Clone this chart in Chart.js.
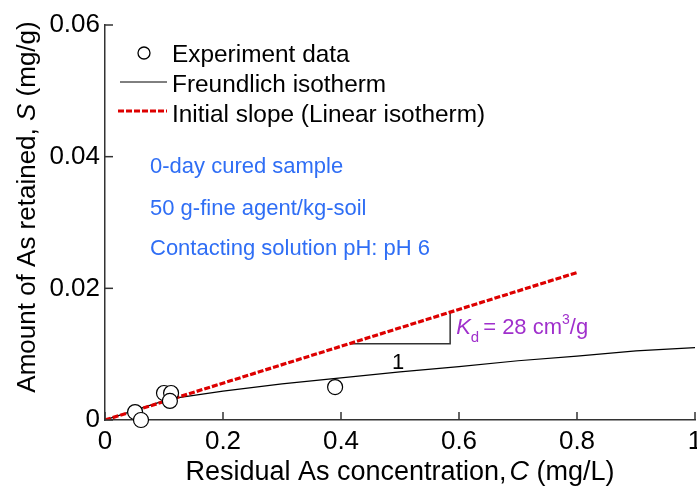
<!DOCTYPE html>
<html>
<head>
<meta charset="utf-8">
<script src="https://cdn.jsdelivr.net/npm/chart.js@4.4.1/dist/chart.umd.min.js"></script>
<style>
  html, body { margin: 0; padding: 0; background: #fff; }
  #wrap { width: 697px; height: 489px; position: relative; }
</style>
</head>
<body>
<div id="wrap"><canvas id="isoChart" width="697" height="489"></canvas></div>
<script>
// --- data ---
const expC = [0.051, 0.061, 0.100, 0.112, 0.110, 0.390];
const expS = [0.0012, 0.0000, 0.0041, 0.0041, 0.0029, 0.0050];

const freundC = [0, 0.11, 0.2, 0.3, 0.4, 0.5, 0.6, 0.7, 0.8, 0.9, 1.0];
const freundS = [0, 0.0032, 0.0044, 0.0055, 0.0064, 0.0073, 0.0081, 0.0090, 0.0097, 0.0105, 0.0110];

const linearC = [0, 0.8];
const linearS = [0, 0.0224];

// slope triangle (Kd = 28 cm3/g)
const triC = [0.417, 0.585, 0.585];
const triS = [0.0116, 0.0116, 0.0165];

const xTicks = [0, 0.2, 0.4, 0.6, 0.8, 1];
const yTicks = [0, 0.02, 0.04, 0.06];

const FONT = '"Liberation Sans", Arial, sans-serif';
const RED = '#dd0000';
const BLUE = '#2f6ef5';
const PURPLE = '#a030cc';

const toXY = (xs, ys) => xs.map((x, i) => ({ x: x, y: ys[i] }));

// ticks pointing inward, axis titles, legend and notes
const decorPlugin = {
  id: 'decor',
  afterDraw(chart) {
    const ctx = chart.ctx;
    const xs = chart.scales.x, ys = chart.scales.y;
    const area = chart.chartArea;
    ctx.save();
    ctx.strokeStyle = '#333';
    ctx.lineWidth = 1.5;
    xTicks.forEach(v => {
      const px = xs.getPixelForValue(v);
      ctx.beginPath(); ctx.moveTo(px, area.bottom); ctx.lineTo(px, area.bottom - 8); ctx.stroke();
    });
    yTicks.forEach(v => {
      const py = ys.getPixelForValue(v);
      ctx.beginPath(); ctx.moveTo(area.left, py); ctx.lineTo(area.left + 8, py); ctx.stroke();
    });

    // mixed upright/italic text helper
    const drawParts = (parts, x, y, align) => {
      let total = 0;
      parts.forEach(p => { ctx.font = p.font; total += ctx.measureText(p.t).width + (p.gap || 0); });
      let cx = align === 'center' ? x - total / 2 : x;
      parts.forEach(p => {
        ctx.font = p.font;
        ctx.fillStyle = p.color || '#000';
        ctx.fillText(p.t, cx, y + (p.dy || 0));
        cx += ctx.measureText(p.t).width + (p.gap || 0);
      });
    };
    ctx.textBaseline = 'alphabetic';
    ctx.textAlign = 'left';

    // x title
    drawParts([
      { t: 'Residual As concentration,', font: '27px ' + FONT, gap: 3 },
      { t: 'C', font: 'italic 27px ' + FONT },
      { t: ' (mg/L)', font: '27px ' + FONT }
    ], (area.left + area.right) / 2, 480, 'center');

    // y title
    ctx.save();
    ctx.translate(35, 207);
    ctx.rotate(-Math.PI / 2);
    drawParts([
      { t: 'Amount of As retained, ', font: '26px ' + FONT },
      { t: 'S', font: 'italic 26px ' + FONT },
      { t: ' (mg/g)', font: '26px ' + FONT }
    ], 0, 0, 'center');
    ctx.restore();

    // legend
    ctx.beginPath(); ctx.arc(144, 53, 6, 0, Math.PI * 2);
    ctx.fillStyle = '#fff'; ctx.fill();
    ctx.strokeStyle = '#000'; ctx.lineWidth = 1.3; ctx.stroke();
    ctx.font = '24.4px ' + FONT;
    ctx.fillStyle = '#000';
    ctx.fillText('Experiment data', 172, 62);
    ctx.beginPath(); ctx.moveTo(120, 82); ctx.lineTo(167, 82);
    ctx.lineWidth = 1; ctx.strokeStyle = '#000'; ctx.stroke();
    ctx.fillText('Freundlich isotherm', 172, 92);
    ctx.beginPath(); ctx.moveTo(118, 111); ctx.lineTo(167, 111);
    ctx.lineWidth = 3; ctx.strokeStyle = RED; ctx.setLineDash([6, 2]); ctx.stroke();
    ctx.setLineDash([]);
    ctx.fillText('Initial slope (Linear isotherm)', 172, 122);

    // condition notes
    ctx.font = '22px ' + FONT;
    ctx.fillStyle = BLUE;
    ctx.fillText('0-day cured sample', 150, 173);
    ctx.fillText('50 g-fine agent/kg-soil', 150, 215);
    ctx.fillText('Contacting solution pH: pH 6', 150, 255);

    // slope label
    ctx.fillStyle = '#000';
    ctx.font = '22px ' + FONT;
    ctx.fillText('1', 392, 369);
    const kx = xs.getPixelForValue(0.585) + 6;
    drawParts([
      { t: 'K', font: 'italic 22px ' + FONT, color: PURPLE },
      { t: 'd', font: '15px ' + FONT, color: PURPLE, dy: 8, gap: 4 },
      { t: '= 28 cm', font: '22px ' + FONT, color: PURPLE },
      { t: '3', font: '14px ' + FONT, color: PURPLE, dy: -10 },
      { t: '/g', font: '22px ' + FONT, color: PURPLE }
    ], kx, 334, 'left');
    ctx.restore();
  }
};

new Chart(document.getElementById('isoChart'), {
  type: 'scatter',
  data: {
    datasets: [
      {
        label: 'Experiment data',
        data: toXY(expC, expS),
        pointStyle: 'circle',
        pointRadius: 7.5,
        pointBackgroundColor: '#fff',
        pointBorderColor: '#000',
        pointBorderWidth: 1.2,
        showLine: false,
        clip: false,
        order: 0
      },
      {
        label: 'Freundlich isotherm',
        data: toXY(freundC, freundS),
        showLine: true,
        borderColor: '#000',
        borderWidth: 1.2,
        pointRadius: 0,
        order: 2
      },
      {
        label: 'Initial slope (Linear isotherm)',
        data: toXY(linearC, linearS),
        showLine: true,
        borderColor: RED,
        borderWidth: 3.2,
        borderDash: [6, 2],
        pointRadius: 0,
        order: 1
      },
      {
        label: 'slope',
        data: toXY(triC, triS),
        showLine: true,
        borderColor: '#333',
        borderWidth: 1.5,
        pointRadius: 0,
        order: 3
      }
    ]
  },
  options: {
    responsive: false,
    animation: false,
    layout: { autoPadding: false, padding: { top: 25, right: 2, left: 0, bottom: 0 } },
    plugins: { legend: { display: false }, tooltip: { enabled: false } },
    scales: {
      x: {
        type: 'linear',
        min: 0, max: 1,
        afterBuildTicks: s => { s.ticks = xTicks.map(v => ({ value: v })); },
        afterFit: s => { s.height = 69; s.paddingLeft = 0; s.paddingRight = 0; },
        ticks: {
          padding: 6,
          color: '#000',
          font: { family: FONT, size: 26 },
          maxRotation: 0,
          autoSkip: false,
          callback: v => String(v)
        },
        grid: { display: false, drawTicks: false },
        border: { display: true, color: '#333', width: 1.5 }
      },
      y: {
        type: 'linear',
        min: 0, max: 0.06,
        afterBuildTicks: s => { s.ticks = yTicks.map(v => ({ value: v })); },
        afterFit: s => { s.width = 105; s.paddingTop = 0; s.paddingBottom = 0; },
        ticks: {
          padding: 5,
          color: '#000',
          font: { family: FONT, size: 26 },
          callback: v => v === 0 ? '0' : v.toFixed(2)
        },
        grid: { display: false, drawTicks: false },
        border: { display: true, color: '#333', width: 1.5 }
      }
    }
  },
  plugins: [decorPlugin]
});
</script>
</body>
</html>
